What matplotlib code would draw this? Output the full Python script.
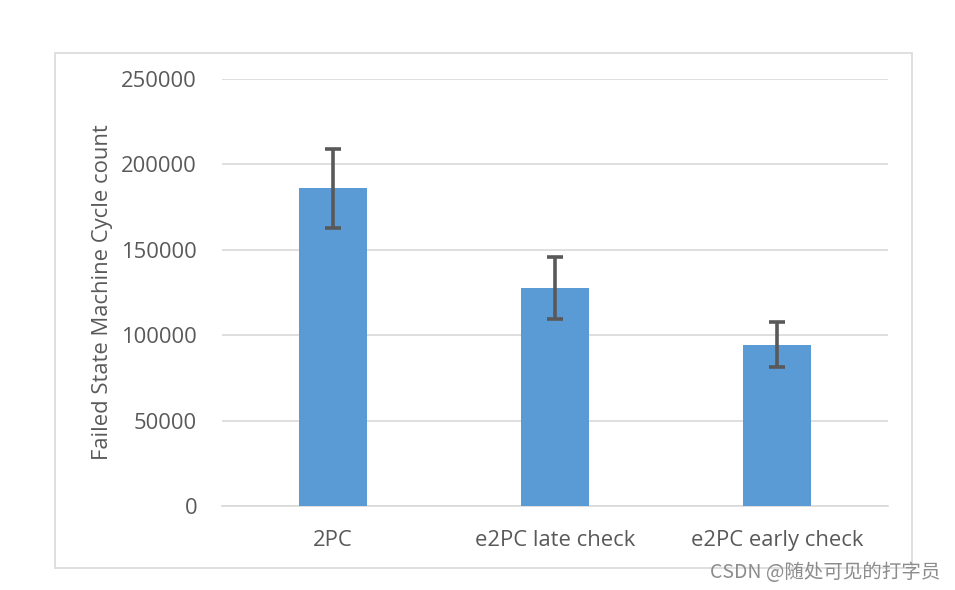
import matplotlib
matplotlib.use("Agg")
import matplotlib.pyplot as plt
from matplotlib.patches import Rectangle

categories = ["2PC", "e2PC late check", "e2PC early check"]
values = [186000, 127500, 94500]
errors = [23000, 18000, 13000]
yticks = [0, 50000, 100000, 150000, 200000, 250000]

plt.rcParams['font.family'] = ['Open Sans', 'Noto Sans CJK SC', 'DejaVu Sans']

fig = plt.figure(figsize=(9.55, 5.9), dpi=100)
ax = fig.add_axes([222/955, 1-506/590, (888-222)/955, (506-79)/590])

x = list(range(len(categories)))
ax.bar(x, values, width=0.31, color="#5B9BD5", zorder=3)
ax.errorbar(x, values, yerr=errors, fmt="none", ecolor="#595959",
            elinewidth=2.6, capsize=5.5, capthick=2.6, zorder=4)

ax.set_xlim(-0.5, 2.5)
ax.set_ylim(0, 250000)
ax.set_yticks(yticks)
ax.set_yticklabels([str(v) for v in yticks])
ax.set_xticks(x)
ax.set_xticklabels(categories)
ax.grid(axis="y", color="#D9D9D9", linewidth=1.2, zorder=0)
for s in ["top", "right", "left"]:
    ax.spines[s].set_visible(False)
ax.spines["bottom"].set_color("#D9D9D9")
ax.spines["bottom"].set_linewidth(1.2)
ax.tick_params(axis="both", length=0, labelsize=15.8, colors="#595959")
ax.tick_params(axis="y", pad=18)
ax.tick_params(axis="x", pad=17)
ax.set_ylabel("Failed State Machine Cycle count", fontsize=15.8, color="#595959", labelpad=6)

fig.patches.append(Rectangle((55/955, 1-568/590), (912-55)/955, (568-53)/590,
                             transform=fig.transFigure, fill=False,
                             edgecolor="#D9D9D9", linewidth=1.2))
fig.text(940/955, 1-572/590, "CSDN @随处可见的打字员", ha="right", va="center",
         fontsize=14, color="#8C8C8C", family=['Noto Sans CJK SC', 'DejaVu Sans'])

fig.savefig("out.png", dpi=100)
